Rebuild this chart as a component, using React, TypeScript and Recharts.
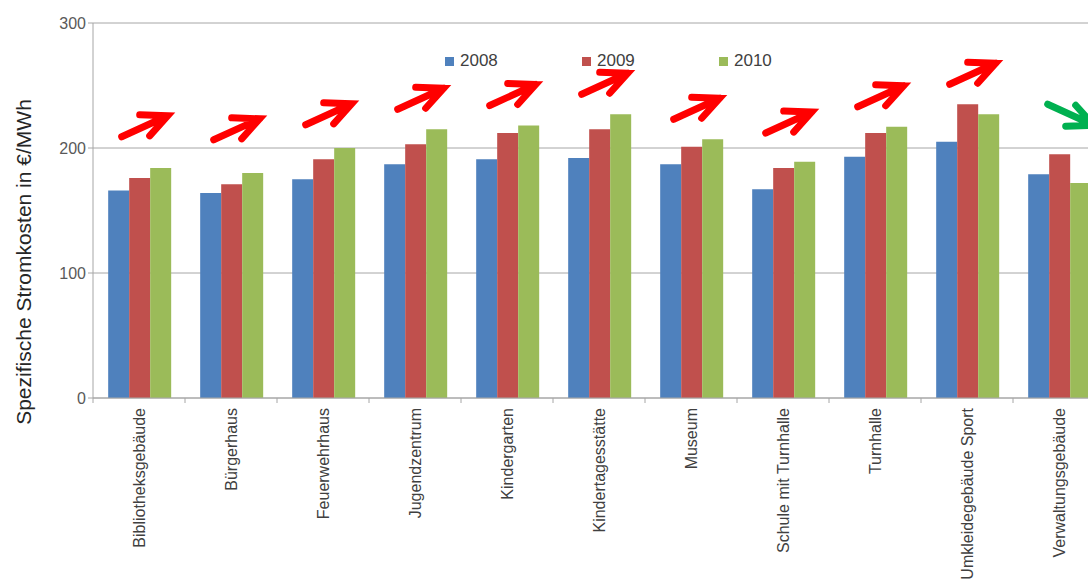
import { BarChart, Bar, XAxis, YAxis, CartesianGrid, Rectangle } from 'recharts';

const categories = [
  'Bibliotheksgebäude',
  'Bürgerhaus',
  'Feuerwehrhaus',
  'Jugendzentrum',
  'Kindergarten',
  'Kindertagesstätte',
  'Museum',
  'Schule mit Turnhalle',
  'Turnhalle',
  'Umkleidegebäude Sport',
  'Verwaltungsgebäude',
];

const values2008 = [166, 164, 175, 187, 191, 192, 187, 167, 193, 205, 179];
const values2009 = [176, 171, 191, 203, 212, 215, 201, 184, 212, 235, 195];
const values2010 = [184, 180, 200, 215, 218, 227, 207, 189, 217, 227, 172];

// trend from 2008 to 2010: 1 = rising (red arrow), -1 = falling (green arrow)
const trends = [1, 1, 1, 1, 1, 1, 1, 1, 1, 1, -1];

const yTicks = [0, 100, 200, 300];
const yMinorTicks = [0, 25, 50, 75, 100, 125, 150, 175, 200, 225, 250, 275, 300];

const series = [
  { key: 'y2008', name: '2008', color: '#4F81BD' },
  { key: 'y2009', name: '2009', color: '#C0504D' },
  { key: 'y2010', name: '2010', color: '#9BBB59' },
];

const data = categories.map((name, i) => ({
  name,
  y2008: values2008[i],
  y2009: values2009[i],
  y2010: values2010[i],
  trend: trends[i],
}));

const FONT = '"Liberation Sans", Arial, sans-serif';

const Arrow = ({ cx, top, up }: { cx: number; top: number; up: boolean }) => {
  const color = up ? '#FF0000' : '#00B050';
  const tx = up ? cx - 18 : cx - 12;
  // arrows sit a bit higher above the lower groups
  const ty = up ? top - 20 - Math.max(0, top - 140) * 0.4 : top - 50;
  const hx = tx + 46;
  const hy = up ? ty - 21 : ty + 21;
  const s = up ? 1 : -1;
  const d = `M${tx},${ty} L${hx},${hy} M${hx - 28},${hy - s} L${hx},${hy} L${hx - 18},${hy + 20 * s}`;
  return (
    <path d={d} fill="none" stroke={color} strokeWidth={7} strokeLinecap="round" strokeLinejoin="miter" />
  );
};

// middle bar also draws the trend arrow above the tallest bar of its group
const MiddleBarWithArrow = (props: any) => {
  const { x, y, width, height, payload, fill } = props;
  const perUnit = payload.y2009 ? height / payload.y2009 : 0;
  const base = y + height;
  const maxVal = Math.max(payload.y2008, payload.y2009, payload.y2010);
  const top = base - maxVal * perUnit;
  const cx = x + width / 2;
  return (
    <g>
      <Rectangle x={x} y={y} width={width} height={height} fill={fill} />
      <Arrow cx={cx} top={top} up={payload.trend > 0} />
    </g>
  );
};

const CategoryTick = (props: any) => {
  const { x, y, payload } = props;
  const half = payload.offset || 0;
  return (
    <g>
      <line x1={x - half} y1={y - 8} x2={x - half} y2={y - 3} stroke="#A6A6A6" />
      <text
        x={x}
        y={y + 2}
        transform={`rotate(-90, ${x}, ${y + 2})`}
        textAnchor="end"
        dominantBaseline="central"
        fontSize={16}
        fontFamily={FONT}
        fill="#404040"
      >
        {payload.value}
      </text>
    </g>
  );
};

const YLabel = () => (
  <text
    x={23}
    y={262}
    transform="rotate(-90, 23, 262)"
    textAnchor="middle"
    dominantBaseline="central"
    fontSize={21}
    fontFamily={FONT}
    fill="#262626"
  >
    Spezifische Stromkosten in €/MWh
  </text>
);

export default function App() {
  return (
    <div style={{ position: 'absolute', left: 0, top: 0, width: 1088, height: 580, overflow: 'hidden', background: '#fff' }}>
      <BarChart
        width={1110}
        height={580}
        data={data}
        margin={{ top: 23, right: 5, bottom: 0, left: 0 }}
        barCategoryGap="16.5%"
        barGap={0}
      >
        <CartesianGrid vertical={false} stroke="#A6A6A6" horizontalValues={yTicks} />
        <XAxis
          dataKey="name"
          height={182}
          interval={0}
          axisLine={{ stroke: '#A6A6A6' }}
          tickLine={false}
          tick={<CategoryTick />}
        />
        <YAxis
          yAxisId="minor"
          orientation="left"
          mirror
          width={0}
          domain={[0, 300]}
          ticks={yMinorTicks}
          tickSize={3}
          tickFormatter={() => ''}
          axisLine={false}
          tickLine={{ stroke: '#A6A6A6' }}
        />
        <YAxis
          width={93}
          domain={[0, 300]}
          ticks={yTicks}
          tickSize={5}
          axisLine={{ stroke: '#A6A6A6' }}
          tickLine={{ stroke: '#A6A6A6' }}
          tick={{ fontSize: 16, fontFamily: FONT, fill: '#595959' }}
          label={<YLabel />}
        />
        <Bar dataKey="y2008" name="2008" fill={series[0].color} isAnimationActive={false} />
        <Bar dataKey="y2009" name="2009" fill={series[1].color} isAnimationActive={false} shape={<MiddleBarWithArrow />} />
        <Bar dataKey="y2010" name="2010" fill={series[2].color} isAnimationActive={false} />
      </BarChart>
      <div style={{ position: 'absolute', left: 445, top: 51, display: 'flex', fontFamily: FONT, fontSize: 17, color: '#404040' }}>
        {series.map((s) => (
          <div key={s.key} style={{ width: 137, display: 'flex', alignItems: 'center' }}>
            <span style={{ display: 'inline-block', width: 9, height: 9, background: s.color, marginRight: 6 }} />
            <span>{s.name}</span>
          </div>
        ))}
      </div>
    </div>
  );
}
